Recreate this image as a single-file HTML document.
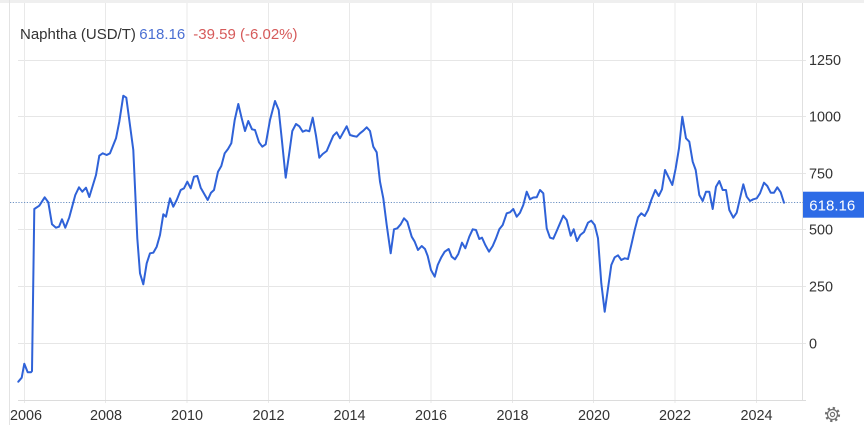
<!DOCTYPE html>
<html>
<head>
<meta charset="utf-8">
<style>
  html,body{margin:0;padding:0;background:#fff;}
  body{width:864px;height:425px;overflow:hidden;}
  svg{display:block;font-family:"Liberation Sans", Arial, sans-serif;}
</style>
</head>
<body>
<svg width="864" height="425" viewBox="0 0 864 425" xmlns="http://www.w3.org/2000/svg">
  <rect x="0" y="0" width="864" height="425" fill="#fff"/>
  <rect x="0" y="0" width="864" height="3" fill="#efefef"/>
  <line x1="9.5" y1="0" x2="9.5" y2="425" stroke="#e3e3e3" stroke-width="1"/>

  <!-- horizontal gridlines -->
  <g stroke="#e6e6e6" stroke-width="1">
    <line x1="18" y1="60.5" x2="806" y2="60.5"/>
    <line x1="18" y1="116.5" x2="806" y2="116.5"/>
    <line x1="18" y1="173.5" x2="806" y2="173.5"/>
    <line x1="18" y1="229.5" x2="806" y2="229.5"/>
    <line x1="18" y1="286.5" x2="806" y2="286.5"/>
    <line x1="18" y1="343.5" x2="806" y2="343.5"/>
  </g>
  <!-- vertical gridlines -->
  <g stroke="#e9e9e9" stroke-width="1">
    <line x1="24.5" y1="3" x2="24.5" y2="403"/>
    <line x1="105.5" y1="3" x2="105.5" y2="403"/>
    <line x1="187" y1="3" x2="187" y2="403"/>
    <line x1="268.5" y1="3" x2="268.5" y2="403"/>
    <line x1="349.5" y1="3" x2="349.5" y2="403"/>
    <line x1="431" y1="3" x2="431" y2="403"/>
    <line x1="512.5" y1="3" x2="512.5" y2="403"/>
    <line x1="593.5" y1="3" x2="593.5" y2="403"/>
    <line x1="675" y1="3" x2="675" y2="403"/>
    <line x1="756.5" y1="3" x2="756.5" y2="403"/>
  </g>
  <!-- plot border right & x axis -->
  <line x1="802.5" y1="3" x2="802.5" y2="400" stroke="#e0e0e0" stroke-width="1"/>
  <line x1="18" y1="400.5" x2="806" y2="400.5" stroke="#dcdcdc" stroke-width="1"/>

  <!-- title -->
  <text x="20" y="39" font-size="15" fill="#333">Naphtha (USD/T)</text>
  <text x="139.3" y="39" font-size="15" fill="#4a6fd3">618.16</text>
  <text x="193.3" y="39" font-size="15" fill="#d65a5a">-39.59 (-6.02%)</text>

  <!-- y labels -->
  <g font-size="14.4" fill="#333">
    <text x="809" y="65">1250</text>
    <text x="809" y="121.7">1000</text>
    <text x="809" y="178.3">750</text>
    <text x="809" y="234.5">500</text>
    <text x="809" y="291.7">250</text>
    <text x="809" y="348.3">0</text>
  </g>

  <!-- x labels -->
  <g font-size="14.4" fill="#333" text-anchor="middle">
    <text x="26" y="420">2006</text>
    <text x="106" y="420">2008</text>
    <text x="187" y="420">2010</text>
    <text x="268.5" y="420">2012</text>
    <text x="349.5" y="420">2014</text>
    <text x="431" y="420">2016</text>
    <text x="512.5" y="420">2018</text>
    <text x="594" y="420">2020</text>
    <text x="675" y="420">2022</text>
    <text x="756.5" y="420">2024</text>
  </g>

  <!-- price dotted line -->
  <line x1="10" y1="202.5" x2="803" y2="202.5" stroke="#6f93c4" stroke-width="1" stroke-dasharray="1.2 1.6"/>

  <!-- series -->
  <polyline fill="none" stroke="#2f62d8" stroke-width="2" stroke-linejoin="round" stroke-linecap="round" points="
18.3,381.7 21.7,377.7 24.3,363.7 27.7,372.3 31,372.3 32,371 34.3,209 39.3,205.7 44.7,197.3 48.3,202.3 52,224.3 56,227.7 59,226.7 62,219.3 65.3,227.7 69.3,217.3 75.3,195 79,187.3 82.3,191.7 86,187.7 89.3,197 96,175 99.3,155.7 102.7,153.3 106.7,155 110,153.3 116,138.3 119.3,121.7 123.3,95.7 126.3,97.7 133.3,150 137.3,238.3 140,273.3 143.3,284.3
146.7,263.3 150,253.3 153.3,252.7 156.7,246.7 160,235 163.3,214.3 166,216.7 170,198.3 173.3,206.7 176.7,200 180.7,190 184,188.3 187.3,181.7 190.7,188.3 194,176.7 197.3,176 200.7,187.7 207.7,200 211,192.7 214,190 218,171.7 221.3,166 224.7,153.3 228,149 231.3,143.3 234.7,120 238.3,104 241.7,118.3 245,131 248.3,121 252,129.3 255,130 259,142.3 262.3,146.7 265.7,144.3 270,120 275,101
278.7,110 281.7,138.3 285.7,177.7 289,155 292.3,131 296,124 299.3,126.3 302.7,131.7 306,130.3 309.3,131.3 312.7,117.7 316,135.7 319.3,157.7 322.7,154 326.7,151 330,143.3 333.3,135.7 336.7,132.3 340,138.3 343.3,132.3 346.7,126.3 350,135 353.3,136 356.7,136.7 360,133.3 363.3,130.7 366.7,127.3 370,131 373.3,146.7 376.7,152.3 380,181.7 383.3,198.3 386.7,225 390.7,253.3 394,229.3 397.3,228.3 400.7,224.3 404,218.3
407.3,221.7 411.7,236.7 414.7,241.7 418,250 421.7,246 425,249 427.7,256 431,270 434.7,276.7 437.7,265 441.3,257.3 444.7,251.7 448.7,249 451.7,256.7 455,259.3 458.3,254 462,242.7 465.3,248.3 469.3,236.7 472.7,229.3 476,230 479.3,239 482,237.7 485.3,245 489,251.7 492.7,246 496,238.3 499.3,229.3 502.7,225 506.7,213.3 510,212.3 513.3,209 516.7,216.7 520,212.7 523.3,205 526.7,191.7 530,199.3 533.3,197.5 536.7,197.3 540,190 543.3,193.3 546.7,228.3 550,237.7 553.3,238.7 556.7,231 560,223.3 563.3,215.7 566.7,220 570.7,235.7 573.7,229.3 577,241 580.3,235 584,232 588,222.7 591.3,220.7 594.7,225 598,238.3 601.3,283.3 604.7,311.7 608,288.3 611.3,265 614.7,257.3 618,255.3 621.3,260 624.7,258.3 628,259 631.3,245 634.7,230 638,217.3 641.3,213.3 644.7,216 648,210 651.3,200 655.3,190 658.7,196 662,189.3 665,170 668.3,176.7 672.3,185 675.7,168.3 679,148.3 682.3,116.7 686,138.3 689.3,141.7 692.7,161.7 695.7,170 699.3,195 702.7,201 706,191.7 709.3,191.7 712.7,209 716,186.7 719.3,181 722.7,190 726,190 729.3,210 733.3,217.7 736.7,212.7 740,198.3 743.3,184.3 746.7,196.7 750,201 753.3,199.3 756.7,198.3 760,193.3 764,182.7 767.3,186 770.7,192.7 774,192.7 777.3,187.3 780.7,192.3 784,202.7"/>

  <!-- price tag -->
  <rect x="803" y="191.7" width="61" height="26" fill="#2d6be6"/>
  <text x="809.3" y="210.5" font-size="15" fill="#fff">618.16</text>

  <!-- gear icon -->
  <g transform="translate(832.5,414.5)" fill="none" stroke="#707070">
    <circle r="6.3" stroke-width="2.6" stroke-dasharray="2.2 2.75"/>
    <circle r="5" stroke-width="1.2" fill="#fff"/>
    <circle r="2.1" stroke-width="1.2"/>
  </g>
</svg>
</body>
</html>
